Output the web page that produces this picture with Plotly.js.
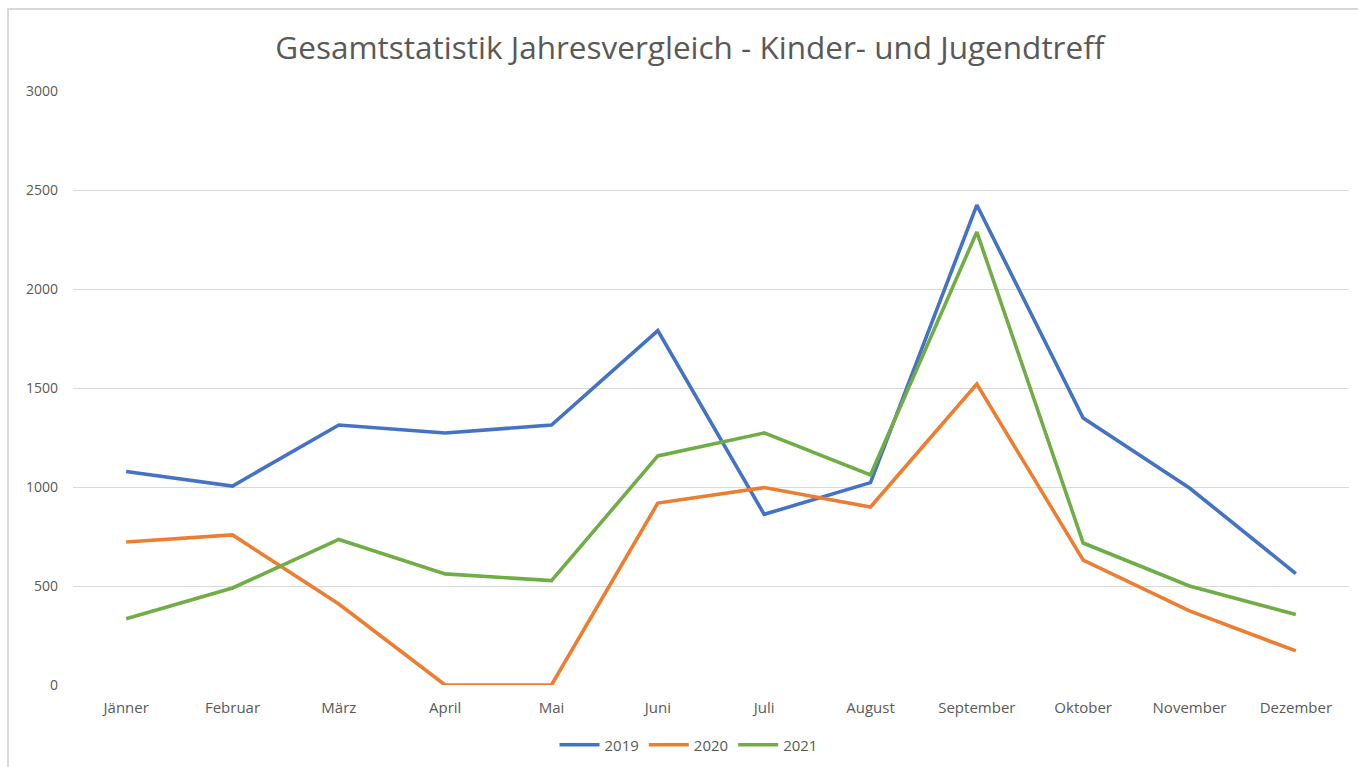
<!DOCTYPE html>
<html>
<head>
<meta charset="utf-8">
<script src="https://cdn.plot.ly/plotly-3.0.1.min.js"></script>
<style>
html,body{margin:0;padding:0;background:#fff;overflow:hidden;}
#chart{width:1358px;height:767px;}
</style>
</head>
<body>
<div id="chart"></div>
<script>
const months = ["Jänner","Februar","März","April","Mai","Juni","Juli","August","September","Oktober","November","Dezember"];
const v2019 = [1078, 1005, 1313, 1273, 1313, 1790, 862, 1022, 2424, 1348, 995, 563];
const v2020 = [722, 758, 409, 0, 0, 919, 997, 899, 1520, 631, 374, 172];
const v2021 = [335, 490, 735, 561, 527, 1157, 1273, 1061, 2288, 717, 500, 356];
const yTicks = [0, 500, 1000, 1500, 2000, 2500, 3000];

const font = "Open Sans, Noto Sans, Liberation Sans, sans-serif";
const mk = (y, name, color) => ({
  x: months, y: y, name: name, type: "scatter", mode: "lines",
  line: {color: color, width: 3.6}
});
const data = [
  mk(v2019, "2019", "#4472C4"),
  mk(v2020, "2020", "#ED7D31"),
  mk(v2021, "2021", "#70AD47")
];
const layout = {
  width: 1358, height: 767,
  margin: {l: 73, r: 9, t: 91, b: 82},
  paper_bgcolor: "#ffffff", plot_bgcolor: "#ffffff",
  font: {family: font, color: "#595959", size: 14},
  title: {text: "Gesamtstatistik Jahresvergleich - Kinder- und Jugendtreff",
          x: 0.508, xanchor: "center", y: 0.938, yanchor: "middle",
          font: {family: font, size: 31.5, color: "#595959"}},
  xaxis: {type: "category", range: [-0.5, 11.5], showgrid: false, zeroline: false,
          showline: false, ticks: "", ticklabelstandoff: 12, automargin: false,
          tickfont: {size: 15, color: "#595959"}},
  yaxis: {range: [0, 3000], tickvals: yTicks, ticktext: yTicks.map(String),
          showgrid: true, gridcolor: "#d9d9d9", gridwidth: 1, zeroline: false,
          showline: false, ticks: "", ticklabelstandoff: 14, automargin: false,
          tickfont: {size: 14, color: "#595959"}},
  showlegend: true,
  legend: {orientation: "h", xref: "container", yref: "container",
           x: 0.507, xanchor: "center", y: 1 - 745 / 767, yanchor: "middle",
           font: {size: 15, color: "#595959"}, traceorder: "normal", itemwidth: 40},
  shapes: [{type: "rect", xref: "paper", yref: "paper",
            x0: (8 - 73) / 1276, x1: (1450 - 73) / 1276,
            y0: (685 - 850) / 594, y1: (685 - 9) / 594,
            line: {color: "#d9d9d9", width: 2}, layer: "below"}]
};
Plotly.newPlot("chart", data, layout, {displayModeBar: false, staticPlot: true});
</script>
</body>
</html>
